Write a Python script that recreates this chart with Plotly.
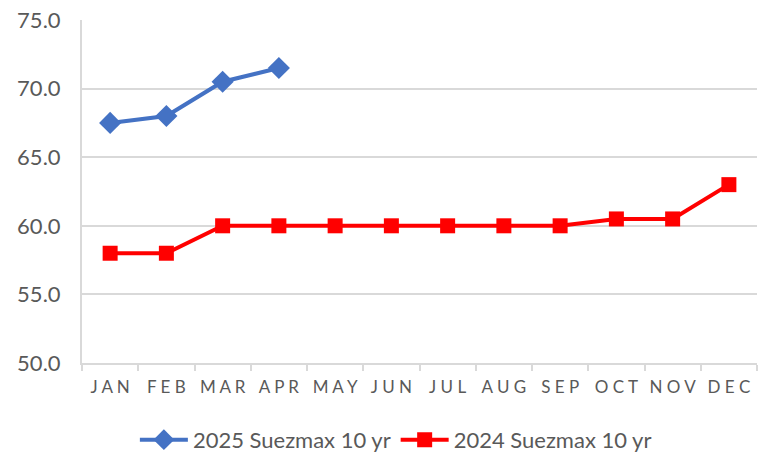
import plotly.graph_objects as go

months = ["JAN", "FEB", "MAR", "APR", "MAY", "JUN", "JUL", "AUG", "SEP", "OCT", "NOV", "DEC"]
s2025_name = "2025 Suezmax 10 yr"
s2025 = [67.5, 68.0, 70.5, 71.5]
s2024_name = "2024 Suezmax 10 yr"
s2024 = [58.0, 58.0, 60.0, 60.0, 60.0, 60.0, 60.0, 60.0, 60.0, 60.5, 60.5, 63.0]

spaced = [" ".join(m) for m in months]

fig = go.Figure()
fig.add_trace(go.Scatter(
    x=months[:len(s2025)], y=s2025, name=s2025_name, mode="lines+markers",
    line=dict(color="#4472C4", width=4),
    marker=dict(symbol="diamond", size=17, color="#4472C4"),
))
fig.add_trace(go.Scatter(
    x=months, y=s2024, name=s2024_name, mode="lines+markers",
    line=dict(color="#FF0000", width=4),
    marker=dict(symbol="square", size=15, color="#FF0000"),
))

fig.update_layout(
    width=764, height=454,
    margin=dict(l=82, r=7, t=20, b=91, autoexpand=False),
    plot_bgcolor="white", paper_bgcolor="white",
    font=dict(family="Lato, Open Sans, sans-serif", color="#595959"),
    showlegend=True,
    legend=dict(orientation="h", x=0.465, xanchor="center", y=-0.224, yanchor="middle",
                font=dict(size=22, color="#595959"), traceorder="normal",
                itemwidth=48),
)
fig.update_xaxes(
    type="category", categoryorder="array", categoryarray=months,
    tickmode="array", tickvals=months, ticktext=spaced,
    showline=True, linecolor="#d9d9d9", linewidth=2,
    ticks="outside", tickson="boundaries", ticklen=6, tickcolor="#d9d9d9", tickwidth=2,
    showgrid=False, tickfont=dict(size=17, color="#595959"), tickangle=0,
    range=[-0.5, 11.5], automargin=False, ticklabelstandoff=8,
)
fig.update_yaxes(
    range=[50, 75], dtick=5, tickformat=".1f",
    showline=True, linecolor="#d9d9d9", linewidth=2,
    showgrid=True, gridcolor="#d9d9d9", gridwidth=2,
    zeroline=False, ticks="", tickfont=dict(size=22, color="#595959"),
    automargin=False, ticklabelstandoff=15,
)

fig.write_html("out.html", config={"displayModeBar": False},
               post_script="document.body.style.margin='0';document.body.style.overflow='hidden';")
